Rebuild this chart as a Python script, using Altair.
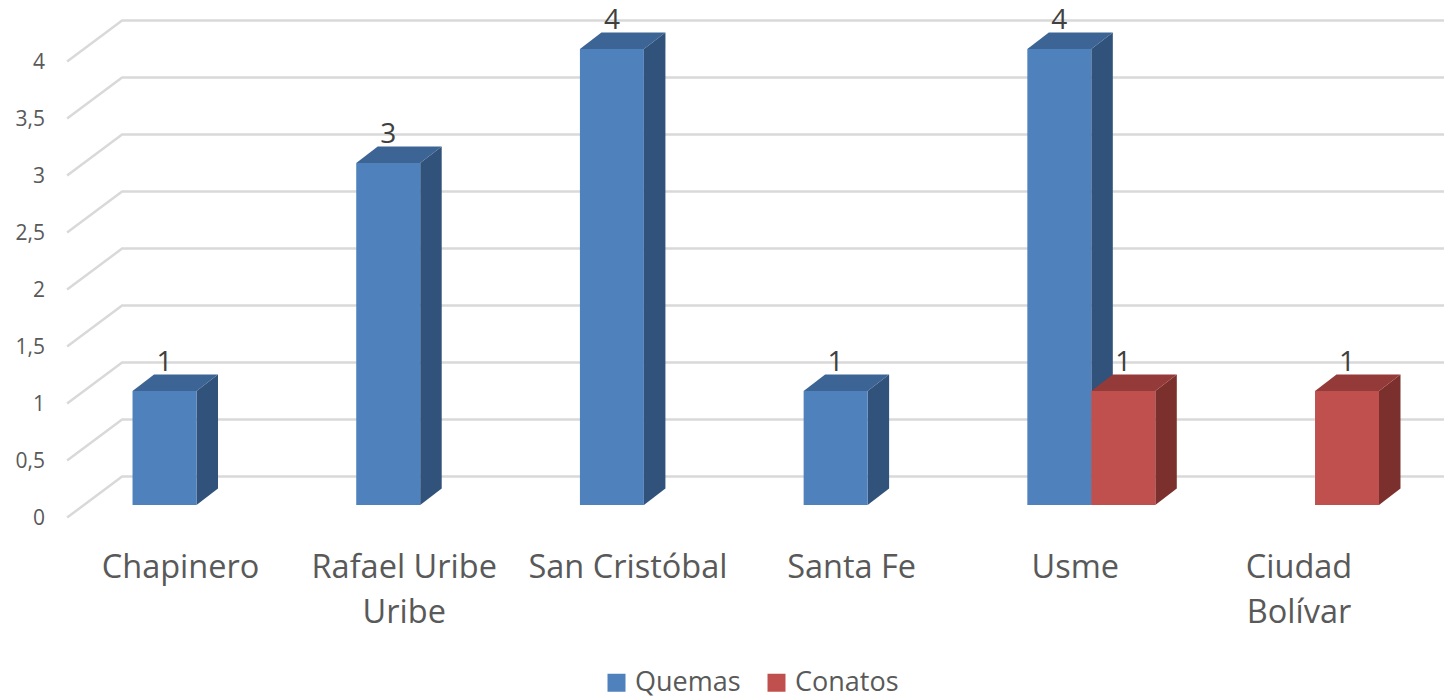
import altair as alt
import pandas as pd

categories = ["Chapinero", "Rafael Uribe\nUribe", "San Cristóbal", "Santa Fe", "Usme", "Ciudad\nBolívar"]
quemas = [1, 3, 4, 1, 4, None]
conatos = [None, None, None, None, 1, 1]
tick_values = [0, 0.5, 1, 1.5, 2, 2.5, 3, 3.5, 4]
tick_labels = ["0", "0,5", "1", "1,5", "2", "2,5", "3", "3,5", "4"]
series_names = ["Quemas", "Conatos"]
front_colors = ["#4F81BD", "#C0504D"]
side_colors = ["#31527A", "#7C302E"]
top_colors = ["#3C6494", "#943A38"]

# scale geometry, in category units (x) and value units (y)
W, H = 1436, 688
X_DOM = [-0.8427, 5.5766]
Y_DOM = [-1.675, 4.36]
BAR = 0.286
DX = 0.0961
DY = 0.1447
GRID_FRONT_X, GRID_BACK_X = -0.5785, -0.3327
GRID_FRONT_DY, GRID_BACK_DY = -0.11, 0.25
RIGHT_X = X_DOM[1]

x_s = alt.Scale(domain=X_DOM, range=[0, W], nice=False, zero=False)
y_s = alt.Scale(domain=Y_DOM, range=[H, 0], nice=False, zero=False)
X = alt.X("x:Q", scale=x_s, axis=None)
Y = alt.Y("y:Q", scale=y_s, axis=None)

fronts, sides, tops, labels = [], [], [], []
for s, vals in enumerate([quemas, conatos]):
    for i, v in enumerate(vals):
        if v is None:
            continue
        l = i + (s - 1) * BAR
        r = l + BAR
        key = f"{s}-{i}"
        fronts.append(dict(x=l, x2=r, y=0, y2=v, series=series_names[s]))
        sides.append(dict(key=key, series=series_names[s], x=r, y=0, y2=v))
        sides.append(dict(key=key, series=series_names[s], x=r + DX, y=DY, y2=v + DY))
        tops.append(dict(key=key, series=series_names[s], y=v, x=l, x2=r))
        tops.append(dict(key=key, series=series_names[s], y=v + DY, x=l + DX, x2=r + DX))
        labels.append(dict(x=(l + r) / 2, y=v + 0.25, t=str(v)))

grid = []
for v in tick_values:
    grid.append(dict(v=v, o=0, x=GRID_FRONT_X, y=v + GRID_FRONT_DY))
    grid.append(dict(v=v, o=1, x=GRID_BACK_X, y=v + GRID_BACK_DY))
    grid.append(dict(v=v, o=2, x=RIGHT_X, y=v + GRID_BACK_DY))

grid_layer = alt.Chart(pd.DataFrame(grid)).mark_line(color="#D9D9D9", strokeWidth=2.5).encode(
    x=X, y=Y, detail="v:N", order="o:Q")

ticks_df = pd.DataFrame(dict(x=[-0.677] * len(tick_values),
                             y=[v + GRID_FRONT_DY - 0.015 for v in tick_values],
                             t=tick_labels))
tick_layer = alt.Chart(ticks_df).mark_text(
    align="right", baseline="middle", font="Open Sans", fontSize=21, color="#595959"
).encode(x=X, y=Y, text="t:N")


def faces(name, idx):
    f = [r for r in fronts if r["series"] == name]
    fdf = pd.DataFrame(f)
    sdf = pd.DataFrame([r for r in sides if r["series"] == name])
    tdf = pd.DataFrame([r for r in tops if r["series"] == name])
    side = alt.Chart(sdf).mark_area(color=side_colors[idx], opacity=1).encode(
        x=X, y=alt.Y("y:Q", scale=y_s, axis=None, stack=None), y2="y2:Q", detail="key:N")
    top = alt.Chart(tdf).mark_area(color=top_colors[idx], orient="horizontal", opacity=1).encode(
        y=Y, x=alt.X("x:Q", scale=x_s, axis=None, stack=None), x2="x2:Q", detail="key:N")
    front = alt.Chart(fdf).mark_rect().encode(
        x=X, x2="x2:Q", y=Y, y2="y2:Q",
        color=alt.Color("series:N", scale=alt.Scale(domain=series_names, range=front_colors),
                        legend=alt.Legend(
                            title=None, orient="none", direction="horizontal",
                            legendX=595, legendY=661, symbolType="square", symbolSize=324,
                            symbolStrokeWidth=0, labelFont="Open Sans", labelFontSize=27,
                            labelColor="#595959", columnPadding=22, labelOffset=5)))
    return [side, top, front]


cat_df = pd.DataFrame(dict(x=[i - 0.0715 for i in range(len(categories))],
                           y=[-0.55] * len(categories), t=categories))
cat_layer = alt.Chart(cat_df).mark_text(
    align="center", baseline="middle", font="Open Sans", fontSize=32.5, color="#595959",
    lineBreak="\n", lineHeight=45
).encode(x=X, y=Y, text="t:N")

label_layer = alt.Chart(pd.DataFrame(labels)).mark_text(
    align="center", baseline="middle", font="Open Sans", fontSize=28, color="#404040"
).encode(x=X, y=Y, text="t:N")

chart = alt.layer(
    grid_layer, tick_layer, *faces("Quemas", 0), *faces("Conatos", 1), cat_layer, label_layer
).properties(
    width=W, height=H, padding=0, autosize=alt.AutoSizeParams(type="none"), background="white"
).configure_view(stroke=None)

chart.save("out.html", embed_options={"renderer": "svg", "actions": False})
